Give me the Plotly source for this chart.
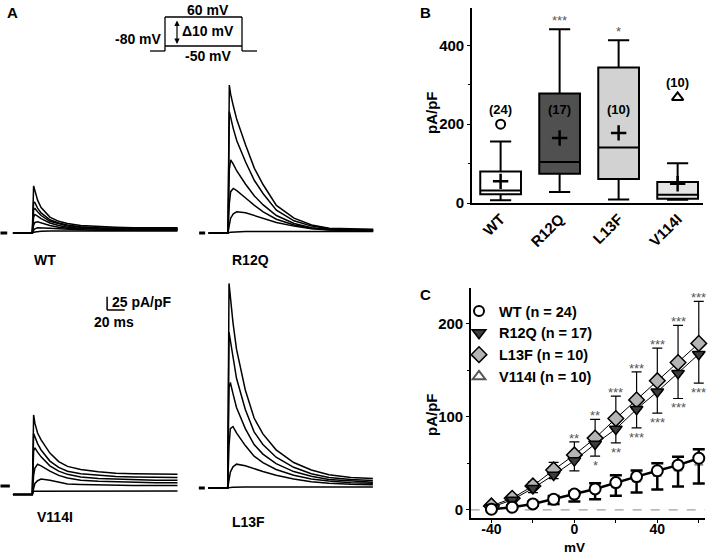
import plotly.graph_objects as go

W, H = 709, 555
FONT = "Liberation Sans, Arial, sans-serif"

# ---------------- Panel A: current traces (pA/pF vs ms) ----------------
t_ms = [-22, 0, 1.5, 3, 6, 10, 20, 30, 40, 55, 75, 95, 115, 140, 165]

wt_traces = [
    [0, 0, 89, 80, 62, 48, 30, 22, 18, 14, 12, 11, 10, 10, 10],
    [0, 0, 59, 57, 47, 38, 25, 19, 15, 12, 10, 9, 9, 9, 9],
    [0, 0, 44, 46, 40, 33, 22, 17, 13, 11, 9, 8, 8, 8, 8],
    [0, 0, 30, 35, 32, 27, 19, 14, 11, 9, 8, 7, 7, 7, 7],
    [0, 0, 15, 20, 21, 19, 14, 11, 9, 8, 7, 6, 6, 6, 6],
    [0, 0, 5, 8, 10, 10, 9, 8, 7, 6, 5, 5, 5, 5, 5],
    [0, 0, 1, 2, 3, 3.5, 4, 4, 4, 4, 4, 4, 4, 4, 4],
]
r12q_traces = [
    [0, 0, 279, 262, 240, 214, 166, 122, 91, 52, 28, 15, 9, 7.5, 7],
    [0, 0, 229, 216, 197, 174, 134, 99, 74, 43, 23, 13, 8, 6.5, 6],
    [0, 0, 120, 138, 130, 117, 92, 70, 53, 33, 18, 10, 6.5, 5.5, 5],
    [0, 0, 55, 78, 84, 80, 66, 52, 40, 26, 15, 9, 6, 5, 4.5],
    [0, 0, 15, 28, 36, 40, 38, 33, 28, 20, 13, 8, 5.5, 4.5, 4],
    [0, 0, 1, 1.5, 2, 2.5, 3, 3, 3, 3, 3, 3, 3, 3, 3],
]
v114i_traces = [
    [-16, -16, 134, 118, 100, 87, 62, 46, 37, 31, 27, 24, 23, 22, 22],
    [-16, -16, 99, 92, 80, 68, 47, 35, 28, 23, 20, 18, 17, 16, 16],
    [-16, -16, 66, 72, 64, 55, 38, 28, 22, 17, 14, 13, 12, 11, 11],
    [-16, -16, 20, 34, 41, 38, 28, 20, 15, 11, 9, 8, 7, 6, 6],
    [-16, -16, -5, 5, 10, 13, 11, 7, 4, 3, 2, 1, 1, 1, 1],
    [-16, -16, -10, -10, -9.5, -9.5, -9.5, -9.5, -9.5, -9.5, -9.5, -9.5, -9.5, -9.5, -9.5],
]
l13f_traces = [
    [0, 0, 386, 360, 312, 262, 185, 132, 102, 72, 48, 34, 25, 20, 18],
    [0, 0, 294, 278, 243, 207, 148, 106, 82, 58, 39, 27, 20, 16, 14],
    [0, 0, 190, 199, 178, 152, 112, 82, 64, 46, 31, 22, 16, 13, 11],
    [0, 0, 80, 112, 116, 104, 80, 60, 48, 35, 24, 17, 13, 10, 9],
    [0, 0, 15, 30, 40, 45, 42, 36, 31, 24, 17, 12, 9, 7, 6],
    [0, 0, 1, 1, 1.5, 2, 2, 2, 2, 2, 2, 2, 2, 2, 2],
]

# ---------------- Panel B: box plot stats (pA/pF) ----------------
groups = ["WT", "R12Q", "L13F", "V114I"]
n_cells = [24, 17, 10, 10]
box_low = [7, 28, 9, 8]
box_q1 = [22, 74, 61, 11]
box_med = [32, 104, 141, 21]
box_q3 = [80, 278, 344, 53]
box_high = [156, 441, 413, 101]
box_mean = [55, 165, 178, 49]
outlier_wt = [200]
outlier_v114i = [268]
sig_b = ["", "***", "*", ""]

# ---------------- Panel C: I-V relationship ----------------
mv = [-40, -30, -20, -10, 0, 10, 20, 30, 40, 50, 60]
wt_iv = [0.7, 2.9, 6.4, 11.4, 17, 22.5, 29.3, 35.7, 42, 48, 55.4]
wt_err_up = [1, 1.5, 2, 3.6, 3, 6, 8, 6.5, 8, 9, 9.6]
wt_err_dn = [0.5, 1, 2, 5, 8, 11, 14, 17, 20, 23, 27]
r12q_iv = [2.9, 10.7, 23.2, 37.5, 52.9, 70.7, 86.8, 108, 126.8, 146.5, 167]
r12q_err_dn = [1, 2, 4.6, 4, 11, 13, 15, 20, 23, 27, 31]
l13f_iv = [4.3, 12.5, 25.7, 42.9, 59, 77, 98, 118, 138.6, 158, 178.6]
l13f_err_up = [2, 3, 4.3, 8, 14, 20, 24, 30, 35, 40, 45]
v114i_iv = [0.5, 2, 5.5, 10, 15, 20, 26, 32, 38, 44, 50]
sig_l13f = ["", "", "", "", "**", "**", "***", "***", "***", "***", "***"]
sig_r12q = ["", "", "", "", "", "*", "**", "***", "***", "***", "***"]
legend_names = ["WT (n = 24)", "R12Q (n = 17)", "L13F (n = 10)", "V114I (n = 10)"]

# ---------------- helpers (pixel layout) ----------------
def dx(x0, x1):
    return [max(0, x0 / W), min(1, x1 / W)]

def dy(ytop, ybot):
    return [max(0, 1 - ybot / H), min(1, 1 - ytop / H)]

def px(x):
    return x / W

def py(y):
    return 1 - y / H

def bold(size):
    return dict(size=size, family=FONT, weight="bold", color="black")

KX, KY = 0.88, 0.53
TR = [-36.5, 168]
IR = [-30, 410]

def trace_dom(x_on, y_zero):
    return dx(x_on + TR[0] * KX, x_on + TR[1] * KX), dy(y_zero - IR[1] * KY, y_zero - IR[0] * KY)

panelA = {
    "WT": (wt_traces, 1, 32.3, 233),
    "R12Q": (r12q_traces, 2, 228, 233),
    "V114I": (v114i_traces, 3, 32.3, 486),
    "L13F": (l13f_traces, 4, 227.7, 488),
}

fig = go.Figure()
layout_axes = {}
shapes = []
annotations = []

for name, (trs, k, x_on, y_zero) in panelA.items():
    xa = "x" if k == 1 else f"x{k}"
    ya = "y" if k == 1 else f"y{k}"
    for tr in trs:
        fig.add_trace(go.Scatter(x=t_ms, y=tr, mode="lines", xaxis=xa, yaxis=ya,
                                 line=dict(color="black", width=1.5), showlegend=False,
                                 hoverinfo="skip"))
    xd, yd = trace_dom(x_on, y_zero)
    sfx = "" if k == 1 else str(k)
    layout_axes[f"xaxis{sfx}"] = dict(domain=xd, range=TR, visible=False, anchor=ya,
                                      fixedrange=True, automargin=False)
    layout_axes[f"yaxis{sfx}"] = dict(domain=yd, range=IR, visible=False, anchor=xa,
                                      fixedrange=True, automargin=False)
    if k == 1:
        dash_x = [-36.3, -28.5]
    elif k == 3:
        dash_x = [-36.3, -25.5]
    else:
        dash_x = [-32.8, -26]
    shapes.append(dict(type="line", xref=xa, yref=ya, x0=dash_x[0], x1=dash_x[1], y0=0, y1=0,
                       line=dict(color="black", width=3)))

# group labels
for txt, x, y in [("WT", 32, 260), ("R12Q", 230, 260), ("V114I", 35, 517), ("L13F", 230, 522)]:
    annotations.append(dict(text=txt, x=px(x), y=py(y), xref="paper", yref="paper", showarrow=False,
                            xanchor="left", yanchor="middle", font=bold(14)))

# scale bar (in V114I axes data units)
sb_t, sb_i = 85, 332
shapes.append(dict(type="line", xref="x3", yref="y3", x0=sb_t, x1=sb_t, y0=sb_i, y1=sb_i + 25,
                   line=dict(color="black", width=1.5)))
shapes.append(dict(type="line", xref="x3", yref="y3", x0=sb_t, x1=sb_t + 20, y0=sb_i, y1=sb_i,
                   line=dict(color="black", width=1.5)))
annotations.append(dict(text="25 pA/pF", x=px(110), y=py(302), xref="paper", yref="paper", showarrow=False,
                        xanchor="left", yanchor="middle", font=bold(14)))
annotations.append(dict(text="20 ms", x=px(114), y=py(322), xref="paper", yref="paper", showarrow=False,
                        xanchor="center", yanchor="middle", font=bold(14)))

# voltage protocol schematic
proto = [(150, 51, 165, 51), (165, 51, 165, 17), (165, 17, 242, 17), (242, 17, 242, 51),
         (242, 51, 257, 51), (165, 46, 242, 46)]
for x0, y0, x1, y1 in proto:
    shapes.append(dict(type="line", xref="paper", yref="paper", x0=px(x0), y0=py(y0), x1=px(x1), y1=py(y1),
                       line=dict(color="black", width=1.3)))
annotations.append(dict(text="", x=px(177), y=py(44), ax=0, ay=-25, xref="paper", yref="paper",
                        showarrow=True, arrowhead=2, arrowside="end+start", arrowsize=0.9, arrowwidth=1.2,
                        arrowcolor="black"))
annotations.append(dict(text="60 mV", x=px(208), y=py(0), xref="paper", yref="paper", showarrow=False,
                        xanchor="center", yanchor="top", font=bold(14)))
for txt, x, y in [("Δ10 mV", 208, 31), ("-80 mV", 138, 39), ("-50 mV", 208, 56)]:
    annotations.append(dict(text=txt, x=px(x), y=py(y), xref="paper", yref="paper", showarrow=False,
                            xanchor="center", yanchor="middle", font=bold(14)))

# ---------------- Panel B ----------------
box_fill = ["#ffffff", "#505050", "#d2d2d2", "#e4e4e4"]
for i, g in enumerate(groups):
    fig.add_trace(go.Box(x=[g], q1=[box_q1[i]], median=[box_med[i]], q3=[box_q3[i]],
                         lowerfence=[box_low[i]], upperfence=[box_high[i]],
                         fillcolor=box_fill[i], line=dict(color="black", width=2),
                         width=0.69, whiskerwidth=0.52, boxpoints=False,
                         xaxis="x5", yaxis="y5", showlegend=False, hoverinfo="skip"))
fig.add_trace(go.Scatter(x=groups, y=box_mean, mode="markers", xaxis="x5", yaxis="y5", showlegend=False,
                         marker=dict(symbol="cross-thin-open", size=11, color="black",
                                     line=dict(color="black", width=2.5)),
                         hoverinfo="skip"))
fig.add_trace(go.Scatter(x=["WT"], y=outlier_wt, mode="markers", xaxis="x5", yaxis="y5", showlegend=False,
                         marker=dict(symbol="circle-open", size=9, color="black",
                                     line=dict(color="black", width=2)),
                         hoverinfo="skip"))
fig.add_trace(go.Scatter(x=["V114I"], y=outlier_v114i, mode="markers", xaxis="x5", yaxis="y5", showlegend=False,
                         marker=dict(symbol="triangle-up-open", size=10, color="black",
                                     line=dict(color="black", width=2)),
                         hoverinfo="skip"))
n_label_y = [238, 238, 238, 307]
for i, g in enumerate(groups):
    annotations.append(dict(text=f"({n_cells[i]})", x=g, y=n_label_y[i], xref="x5", yref="y5", showarrow=False,
                            xanchor="center", yanchor="middle", font=bold(13)))
    if sig_b[i]:
        annotations.append(dict(text=sig_b[i], x=g, y=box_high[i], xref="x5", yref="y5", showarrow=False,
                                xanchor="center", yanchor="bottom", yshift=-1,
                                font=dict(size=13, family=FONT, color="#555555")))

axis_common = dict(showline=True, linecolor="black", linewidth=1.5, ticks="outside", tickcolor="black",
                   showgrid=False, zeroline=False, fixedrange=True, automargin=False,
                   tickfont=bold(15))
layout_axes["xaxis5"] = dict(axis_common, domain=dx(471.7, 703), anchor="y5", type="category",
                             categoryorder="array", categoryarray=groups, range=[-0.49, 3.43],
                             ticks="", tickangle=-45)
layout_axes["yaxis5"] = dict(axis_common, domain=dy(8, 203), anchor="x5", range=[0, 495],
                             tickvals=[0, 200, 400], ticklen=3,
                             minor=dict(tickvals=[100, 300], ticklen=2, ticks="outside", tickcolor="black"))
annotations.append(dict(text="pA/pF", x=px(431), y=py(113), xref="paper", yref="paper", showarrow=False,
                        textangle=-90, xanchor="center", yanchor="middle", font=bold(15)))

# ---------------- Panel C ----------------
shapes.append(dict(type="line", xref="x6 domain", yref="y6", x0=0, x1=1, y0=0, y1=0, layer="below",
                   line=dict(color="#888888", width=1, dash="dash")))
zeros = [0] * len(mv)
fig.add_trace(go.Scatter(x=mv, y=l13f_iv, mode="lines+markers", xaxis="x6", yaxis="y6", showlegend=False,
                         line=dict(color="black", width=1),
                         marker=dict(symbol="diamond", size=12, color="#b4b4b4", line=dict(color="black", width=1.5)),
                         error_y=dict(type="data", symmetric=False, array=l13f_err_up, arrayminus=zeros,
                                      color="black", thickness=1.2, width=5),
                         cliponaxis=False, hoverinfo="skip"))
fig.add_trace(go.Scatter(x=mv, y=r12q_iv, mode="lines+markers", xaxis="x6", yaxis="y6", showlegend=False,
                         line=dict(color="black", width=1),
                         marker=dict(symbol="triangle-down", size=11, color="#3c3c3c", line=dict(color="black", width=1.5)),
                         error_y=dict(type="data", symmetric=False, array=zeros, arrayminus=r12q_err_dn,
                                      color="black", thickness=1.2, width=5),
                         cliponaxis=False, hoverinfo="skip"))
fig.add_trace(go.Scatter(x=mv, y=v114i_iv, mode="markers", xaxis="x6", yaxis="y6", showlegend=False,
                         marker=dict(symbol="triangle-up-open", size=7, color="#888888",
                                     line=dict(color="#888888", width=1.5)),
                         cliponaxis=False, hoverinfo="skip"))
fig.add_trace(go.Scatter(x=mv, y=wt_iv, mode="lines+markers", xaxis="x6", yaxis="y6", showlegend=False,
                         line=dict(color="black", width=2.5),
                         marker=dict(symbol="circle", size=11, color="white", line=dict(color="black", width=2)),
                         error_y=dict(type="data", symmetric=False, array=wt_err_up, arrayminus=wt_err_dn,
                                      color="black", thickness=2.5, width=6),
                         cliponaxis=False, hoverinfo="skip"))

for i, v in enumerate(mv):
    if sig_l13f[i]:
        annotations.append(dict(text=sig_l13f[i], x=v, y=l13f_iv[i] + l13f_err_up[i], xref="x6", yref="y6",
                                showarrow=False, xanchor="center", yanchor="bottom", yshift=-6,
                                font=dict(size=13, family=FONT, color="#555555")))
    if sig_r12q[i]:
        annotations.append(dict(text=sig_r12q[i], x=v, y=r12q_iv[i] - r12q_err_dn[i], xref="x6", yref="y6",
                                showarrow=False, xanchor="center", yanchor="top", yshift=0,
                                font=dict(size=13, family=FONT, color="#555555")))

# legend-only entries
leg_markers = [
    dict(symbol="circle-open", size=10, color="black", line=dict(color="black", width=2)),
    dict(symbol="triangle-down", size=12, color="#3c3c3c", line=dict(color="black", width=1.5)),
    dict(symbol="diamond", size=12, color="#b4b4b4", line=dict(color="black", width=1.5)),
    dict(symbol="triangle-up-open", size=11, color="#555555", line=dict(color="#555555", width=2)),
]
for nm, mk in zip(legend_names, leg_markers):
    fig.add_trace(go.Scatter(x=[None], y=[None], mode="markers", name=nm, marker=mk,
                             xaxis="x6", yaxis="y6", showlegend=True))

layout_axes["xaxis6"] = dict(axis_common, domain=dx(470.7, 705), anchor="y6", range=[-50, 63],
                             tickvals=[-40, 0, 40], ticktext=["-40", "0", "40"], ticklen=3,
                             ticklabelstandoff=-6, tickfont=bold(14),
                             minor=dict(tickvals=[-20, 20, 60], ticklen=3, ticks="outside", tickcolor="black"))
layout_axes["yaxis6"] = dict(axis_common, domain=dy(288, 518.3), anchor="x6", range=[-9, 238],
                             tickvals=[0, 100, 200], ticklen=3,
                             minor=dict(tickvals=[50, 150], ticklen=2, ticks="outside", tickcolor="black"))
annotations.append(dict(text="pA/pF", x=px(431), y=py(415), xref="paper", yref="paper", showarrow=False,
                        textangle=-90, xanchor="center", yanchor="middle", font=bold(15)))
annotations.append(dict(text="mV", x=px(574), y=py(557), xref="paper", yref="paper", showarrow=False,
                        xanchor="center", yanchor="bottom", font=bold(13.5)))

# panel letters
for txt, x, y in [("A", 12, 13), ("B", 426, 13), ("C", 426, 294)]:
    annotations.append(dict(text=txt, x=px(x), y=py(y), xref="paper", yref="paper", showarrow=False,
                            xanchor="center", yanchor="middle", font=bold(15)))

fig.update_layout(
    template="none",
    width=W, height=H, margin=dict(l=0, r=0, t=0, b=0, pad=0),
    paper_bgcolor="white", plot_bgcolor="white",
    font=dict(family=FONT, color="black"),
    shapes=shapes, annotations=annotations,
    showlegend=True,
    legend=dict(x=px(459), y=py(295), xanchor="left", yanchor="top", bgcolor="rgba(0,0,0,0)",
                font=bold(14.5), itemwidth=30, tracegroupgap=0, borderwidth=0),
    **layout_axes,
)

fig.write_html("out.html", config={"displayModeBar": False, "staticPlot": True},
               post_script="document.body.style.margin='0';document.body.style.overflow='hidden';")
